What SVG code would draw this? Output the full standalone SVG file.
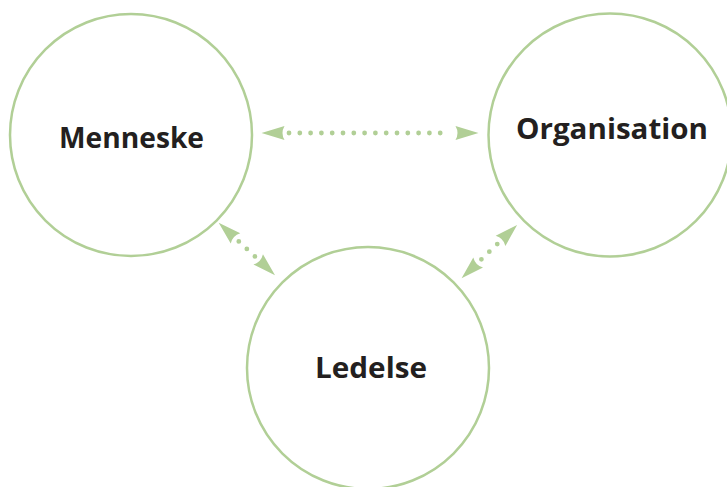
<svg xmlns="http://www.w3.org/2000/svg" width="727" height="487" viewBox="0 0 727 487">
<style>
.node{fill:#ffffff;stroke:#b1cf96;stroke-width:2.5}
.lbl{font-family:"Open Sans","Liberation Sans",sans-serif;font-weight:700;font-size:29px;fill:#231f20;text-anchor:middle}
.dots{fill:none;stroke:#b1cf96;stroke-width:4.8;stroke-linecap:round;stroke-dasharray:0 10.8}
</style>
<defs>
<marker id="head" markerUnits="userSpaceOnUse" viewBox="-2 -8 32 16" refX="0" refY="0" markerWidth="32" markerHeight="16" orient="auto-start-reverse" overflow="visible">
<path d="M27.5 0 L4.5 -7 Q8.5 0 4.5 7 Z" fill="#b1cf96"/>
</marker>
</defs>
<rect width="727" height="487" fill="#ffffff"/>
<g id="menneske">
<circle class="node" cx="131" cy="135" r="121"/>
<text class="lbl" x="131.5" y="148" textLength="145" lengthAdjust="spacingAndGlyphs">Menneske</text>
</g>
<g id="organisation">
<circle class="node" cx="610" cy="135" r="121.5"/>
<text class="lbl" x="612" y="139" textLength="192" lengthAdjust="spacingAndGlyphs">Organisation</text>
</g>
<g id="ledelse">
<circle class="node" cx="368" cy="368" r="121"/>
<text class="lbl" x="371" y="378" textLength="112" lengthAdjust="spacingAndGlyphs">Ledelse</text>
</g>
<g id="connectors">
<path class="dots" d="M289 133 L451 133" marker-start="url(#head)" marker-end="url(#head)"/>
<path class="dots" style="stroke-dasharray:0 11" d="M238.8 241.4 L254.9 256.4" marker-start="url(#head)" marker-end="url(#head)"/>
<path class="dots" style="stroke-dasharray:0 11" d="M481.4 259.3 L497.3 244" marker-start="url(#head)" marker-end="url(#head)"/>
</g>
</svg>
